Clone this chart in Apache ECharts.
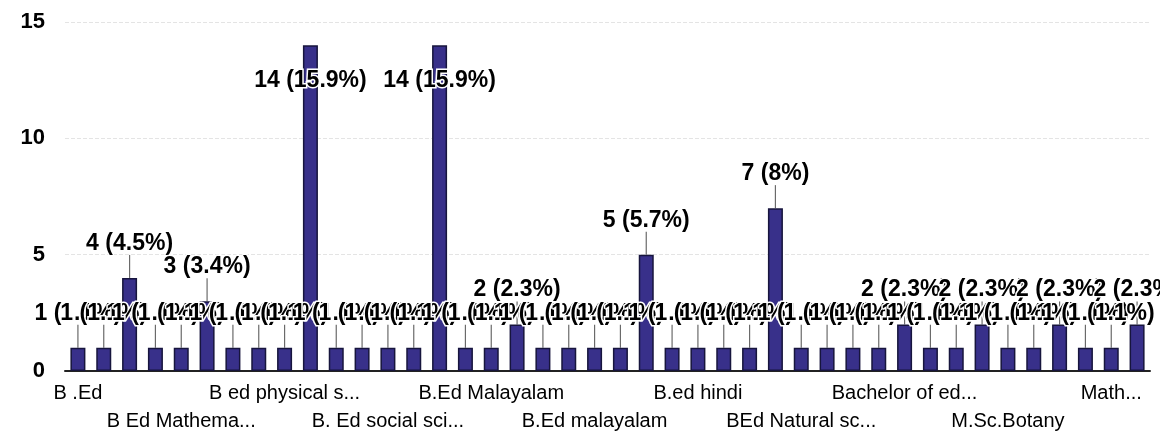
<!DOCTYPE html>
<html>
<head>
<meta charset="utf-8">
<script src="https://cdn.jsdelivr.net/npm/echarts@6/dist/echarts.min.js"></script>
<style>
  html, body { margin: 0; padding: 0; background: #fff; }
  #chart { width: 1160px; height: 439px; }
</style>
</head>
<body>
<div id="chart"></div>
<script>
// categories: only every 4th name is printed on the axis, the rest are not readable
const categories = [
  'B .Ed', '', '', '',
  'B Ed Mathema...', '', '', '',
  'B ed physical s...', '', '', '',
  'B. Ed social sci...', '', '', '',
  'B.Ed Malayalam', '', '', '',
  'B.Ed malayalam', '', '', '',
  'B.ed hindi', '', '', '',
  'BEd Natural sc...', '', '', '',
  'Bachelor of ed...', '', '', '',
  'M.Sc.Botany', '', '', '',
  'Math...', ''
];
const counts = [
  1, 1, 4, 1, 1, 3, 1, 1, 1, 14,
  1, 1, 1, 1, 14, 1, 1, 2, 1, 1,
  1, 1, 5, 1, 1, 1, 1, 7, 1, 1,
  1, 1, 2, 1, 1, 2, 1, 1, 2, 1,
  1, 2
];
const yTicks = [0, 5, 10, 15];

const total = counts.reduce((a, b) => a + b, 0);
const pct = v => Number((v / total * 100).toFixed(1));

let myChart = echarts.init(document.getElementById('chart'));

myChart.setOption({
  animation: false,
  grid: { left: 65, right: 10, top: 22, bottom: 68 },
  xAxis: {
    type: 'category',
    data: categories,
    axisLine: { lineStyle: { color: '#222', width: 2 } },
    axisTick: { show: false },
    axisLabel: {
      interval: 3,
      margin: 8,
      fontFamily: 'Liberation Sans',
      fontSize: 20,
      color: '#000',
      lineHeight: 28,
      formatter: (val, idx) => (Math.floor(idx / 4) % 2 === 1 ? '\n' + val : val)
    }
  },
  yAxis: {
    type: 'value',
    min: yTicks[0],
    max: yTicks[yTicks.length - 1],
    interval: yTicks[1] - yTicks[0],
    axisLine: { show: false },
    axisTick: { show: false },
    splitLine: { lineStyle: { color: '#e4e4e4', width: 1, type: 'dashed' } },
    axisLabel: {
      margin: 20,
      fontFamily: 'Liberation Sans',
      fontSize: 22,
      fontWeight: 'bold',
      color: '#000'
    }
  },
  series: [
    {
      // small stems from bar top up to the annotation
      type: 'custom',
      z: 1,
      silent: true,
      renderItem(params, api) {
        const v = api.value(1);
        if (v >= 12) return;
        const p = api.coord([api.value(0), v]);
        return {
          type: 'line',
          shape: { x1: p[0], y1: p[1], x2: p[0], y2: p[1] - 23 },
          style: { stroke: '#6a6a6a', lineWidth: 1.2 }
        };
      },
      data: counts.map((v, i) => [i, v])
    },
    {
      type: 'bar',
      z: 2,
      barWidth: 15,
      itemStyle: { color: '#38308a', borderColor: '#17153d', borderWidth: 1.5 },
      label: {
        show: true,
        position: 'top',
        distance: 23,
        fontFamily: 'Liberation Sans',
        fontSize: 23,
        fontWeight: 'bold',
        color: '#000',
        textBorderColor: '#fff',
        textBorderWidth: 3,
        formatter: p => p.value + ' (' + pct(p.value) + '%)'
      },
      data: counts.map(v => v >= 12
        ? { value: v, label: { position: 'insideTop', distance: 24 } }
        : v)
    }
  ]
});
</script>
</body>
</html>
